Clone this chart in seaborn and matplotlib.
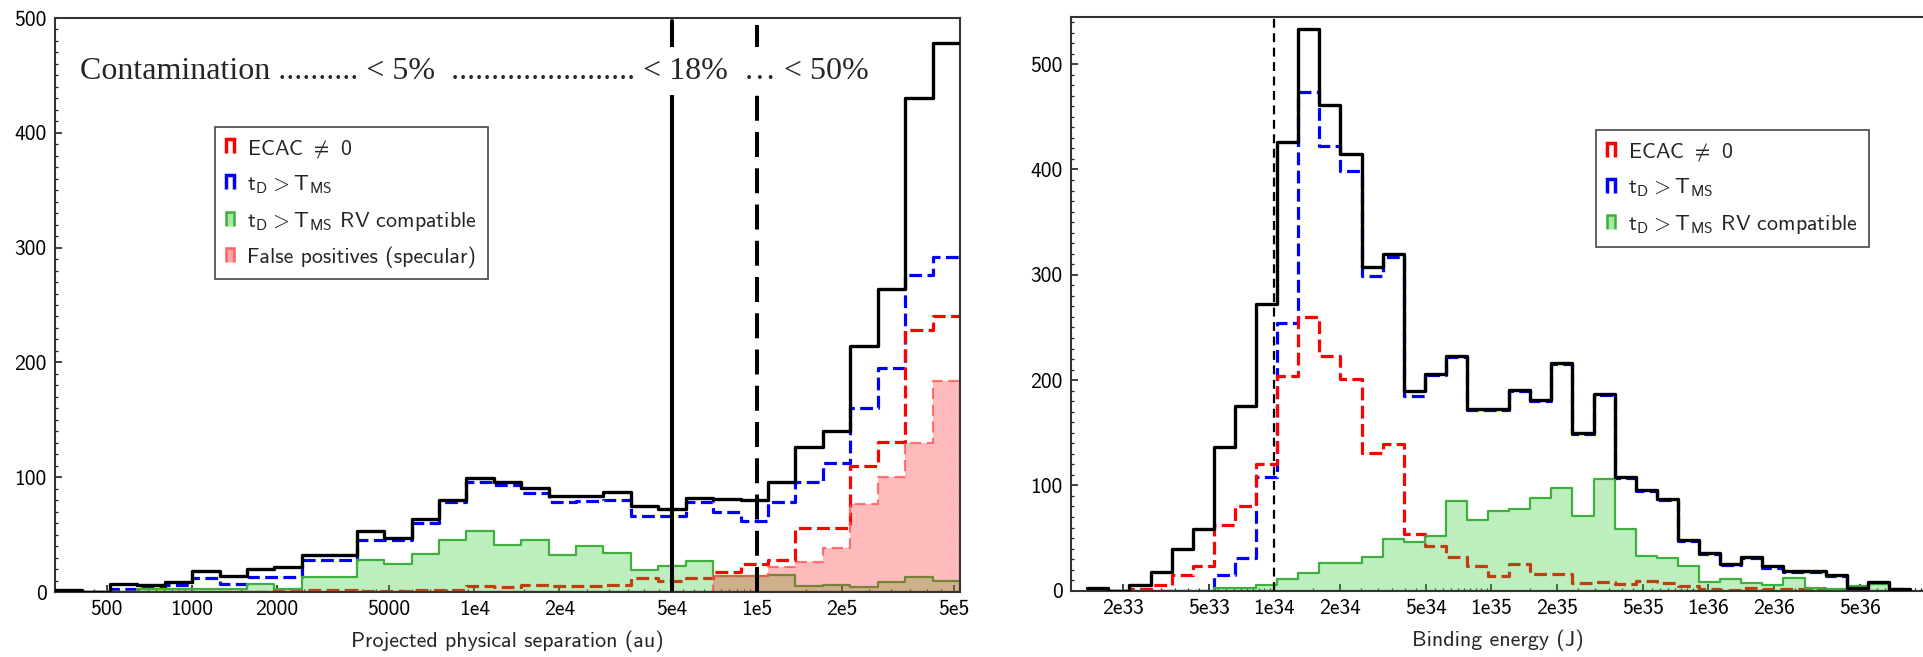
import numpy as np
import matplotlib
matplotlib.use("Agg")
import matplotlib.pyplot as plt
import seaborn as sns
from matplotlib.patches import Patch, Polygon
from matplotlib.legend_handler import HandlerBase
from matplotlib.ticker import LogLocator, NullFormatter, MultipleLocator

# ---------------- data ----------------
# left panel: projected physical separation (au), 33 log bins
sep_log_range = (2.516, 5.7197)
sep_total = [2, 0, 7, 6, 9, 18, 14, 20, 22, 32, 32, 53, 47, 64, 80, 99, 96, 91, 84, 84,
             87, 75, 72, 82, 81, 80, 96, 126, 140, 214, 264, 430, 478]
sep_tms = [0, 0, 3, 4, 6, 12, 7, 13, 13, 28, 28, 45, 45, 60, 78, 96, 93, 86, 78, 79,
           80, 66, 66, 78, 70, 62, 78, 96, 112, 160, 195, 276, 292]
sep_rv = [0, 0, 0, 3, 3, 3, 3, 7, 3, 13, 13, 28, 24, 33, 45, 53, 41, 45, 32, 40,
          34, 19, 23, 27, 14, 14, 15, 5, 6, 4, 9, 13, 10]
sep_ecac = [0, 0, 0, 0, 0, 0, 0, 0, 2, 2, 2, 1, 1, 2, 2, 5, 4, 6, 5, 5,
            6, 12, 10, 12, 17, 24, 28, 56, 56, 110, 131, 228, 240]
sep_false = [0, 0, 0, 0, 0, 0, 0, 0, 0, 0, 0, 0, 0, 0, 0, 0, 0, 0, 0, 0,
             0, 0, 0, 0, 14, 14, 22, 26, 38, 77, 100, 130, 184]
sep_xticks = [500, 1000, 2000, 5000, 1e4, 2e4, 5e4, 1e5, 2e5, 5e5]
sep_xticklabels = ["500", "1000", "2000", "5000", "1e4", "2e4", "5e4", "1e5", "2e5", "5e5"]
sep_yticks = [0, 100, 200, 300, 400, 500]
contamination_cuts = [5e4, 1e5]
contamination_text = "Contamination .......... < 5%  ....................... < 18%  \u2026 < 50%"

# right panel: binding energy (J), 39 log bins
en_log_range = (33.138, 36.929)
en_total = [3, 0, 5, 18, 40, 59, 136, 175, 272, 426, 533, 461, 415, 307, 320, 190, 206, 223, 173, 173,
            191, 181, 216, 150, 187, 108, 96, 87, 48, 36, 25, 32, 23, 19, 19, 15, 3, 8, 2]
en_tms = [0, 0, 0, 0, 0, 0, 15, 31, 108, 254, 474, 422, 399, 299, 317, 185, 205, 222, 172, 172,
          190, 180, 215, 149, 186, 107, 95, 86, 47, 35, 24, 31, 22, 18, 18, 14, 3, 7, 2]
en_ecac = [0, 0, 2, 5, 15, 23, 62, 80, 120, 204, 260, 223, 201, 131, 139, 54, 42, 32, 23, 14,
           25, 16, 16, 7, 8, 6, 9, 7, 4, 2, 1, 3, 2, 2, 2, 1, 0, 0, 0]
en_rv = [0, 0, 0, 0, 0, 0, 3, 3, 5, 11, 17, 26, 26, 32, 49, 46, 52, 85, 67, 76,
         78, 88, 98, 71, 106, 59, 33, 31, 23, 8, 11, 7, 5, 12, 3, 2, 4, 6, 0]
en_xticks = [2e33, 5e33, 1e34, 2e34, 5e34, 1e35, 2e35, 5e35, 1e36, 2e36, 5e36]
en_xticklabels = ["2e33", "5e33", "1e34", "2e34", "5e34", "1e35", "2e35", "5e35", "1e36", "2e36", "5e36"]
en_yticks = [0, 100, 200, 300, 400, 500]
energy_cut = [1e34]

labels = ["ECAC $\\neq$ 0",
          "$\\mathsf{t_D} > \\mathsf{T_{MS}}$",
          "$\\mathsf{t_D} > \\mathsf{T_{MS}}$ RV compatible",
          "False positives (specular)"]

# ---------------- style ----------------
sns.set_theme(style="white")
plt.rcParams["font.family"] = ["cmss10", "DejaVu Sans"]
plt.rcParams["mathtext.fontset"] = "cm"
plt.rcParams["axes.formatter.use_mathtext"] = False
plt.rcParams["axes.unicode_minus"] = False

RED = "#ff0000"
BLUE = "#0000ff"
GREEN_FILL = "#33cc33"
GREEN_EDGE = "#3fb03f"
PINK = "#ff2020"

FS_TICK = 15.5
FS_LABEL = 15.8
FS_LEG = 15.8

fig = plt.figure(figsize=(19.23, 6.57), dpi=100)
axL = fig.add_axes([55 / 1923, (657 - 592) / 657, 905 / 1923, 574 / 657])
axR = fig.add_axes([1071 / 1923, (657 - 590.7) / 657, 854.4 / 1923, 573.9 / 657])


def draw_hist(ax, log_range, counts, **kw):
    edges = np.linspace(log_range[0], log_range[1], len(counts) + 1)
    centers = 10 ** ((edges[:-1] + edges[1:]) / 2)
    sns.histplot(x=centers, weights=list(counts), bins=[float(e) for e in edges], log_scale=True,
                 element="step", ax=ax, **kw)


dashes = (0, (4, 1.7))

for ax, rng, tot, tms, ecac, rv, false in [
        (axL, sep_log_range, sep_total, sep_tms, sep_ecac, sep_rv, sep_false),
        (axR, en_log_range, en_total, en_tms, en_ecac, en_rv, None)]:
    draw_hist(ax, rng, tms, fill=False, color=BLUE, linewidth=2.3, linestyle=dashes, zorder=2)
    draw_hist(ax, rng, ecac, fill=False, color=RED, linewidth=2.3, linestyle=dashes, zorder=2.1)
    draw_hist(ax, rng, rv, fill=True, facecolor=matplotlib.colors.to_rgba(GREEN_FILL, 0.32),
              edgecolor=GREEN_EDGE, linewidth=1.6, zorder=2.2)
    if false is not None:
        draw_hist(ax, rng, false, fill=True, facecolor=matplotlib.colors.to_rgba(PINK, 0.3),
                  edgecolor=matplotlib.colors.to_rgba("#ff5555", 0.8), linewidth=1.6,
                  linestyle=(0, (5, 2.5)), zorder=2.3)
    draw_hist(ax, rng, tot, fill=False, color="black", linewidth=2.4, zorder=3)

# ---------------- axes cosmetics ----------------
axL.set_xlim(10 ** sep_log_range[0], 10 ** sep_log_range[1])
axL.set_ylim(0, 500)
axR.set_xlim(10 ** 33.063, 10 ** 37.0)
axR.set_ylim(0, 545)

for ax, ticks, tlabels, yt, xlabel in [
        (axL, sep_xticks, sep_xticklabels, sep_yticks, "Projected physical separation (au)"),
        (axR, en_xticks, en_xticklabels, en_yticks, "Binding energy (J)")]:
    ax.set_xticks(ticks)
    ax.set_xticklabels(tlabels)
    ax.xaxis.set_minor_locator(LogLocator(base=10, subs=np.arange(1.5, 10, 0.5)))
    ax.xaxis.set_minor_formatter(NullFormatter())
    ax.set_yticks(yt)
    ax.set_yticklabels([str(v) for v in yt])
    ax.yaxis.set_minor_locator(MultipleLocator(10))
    ax.tick_params(which="both", direction="in", top=False, right=False,
                   bottom=True, left=True, colors="#222222", labelcolor="black")
    ax.tick_params(which="major", length=5, width=1.2, labelsize=FS_TICK, pad=6)
    ax.tick_params(which="minor", length=2.5, width=0.9)
    ax.set_xlabel(xlabel, fontsize=FS_LABEL, labelpad=8)
    ax.set_ylabel("")
    for s in ax.spines.values():
        s.set_color("#333333")
        s.set_linewidth(1.5)

axR.spines["right"].set_visible(False)

# reference lines
axL.axvline(contamination_cuts[0], ymin=0, ymax=0.994, color="black", lw=2.9, zorder=4)
axL.axvline(contamination_cuts[1], ymin=0, ymax=0.987, color="black", lw=2.9,
            linestyle=(0, (6.2, 2.8)), zorder=4)
axR.axvline(energy_cut[0], ymin=0, ymax=1, color="black", lw=1.6,
            linestyle=(0, (4, 2.5)), zorder=4)

axL.text(0.0272, 0.907, contamination_text, transform=axL.transAxes,
         fontsize=23, family=["Liberation Serif", "DejaVu Serif"], va="center", ha="left",
         bbox=dict(boxstyle="square,pad=0.3", facecolor="white", edgecolor="none"),
         zorder=6)


# ---------------- legends ----------------
class StepHandler(HandlerBase):
    def create_artists(self, legend, orig_handle, xdescent, ydescent, width, height,
                       fontsize, trans):
        x0, x1 = -xdescent, -xdescent + width
        y0, y1 = -ydescent, -ydescent + height
        poly = Polygon([[x0, y0], [x0, y1], [x1, y1], [x1, y0]], closed=False,
                       facecolor=orig_handle.get_facecolor(),
                       edgecolor=orig_handle.get_edgecolor(),
                       linewidth=orig_handle.get_linewidth(), transform=trans)
        return [poly]


h_ecac = Patch(facecolor="none", edgecolor=RED, linewidth=2.5)
h_tms = Patch(facecolor="none", edgecolor=BLUE, linewidth=2.5)
h_rv = Patch(facecolor=matplotlib.colors.to_rgba(GREEN_FILL, 0.45), edgecolor=GREEN_EDGE, linewidth=1.8)
h_fp = Patch(facecolor=matplotlib.colors.to_rgba(PINK, 0.4), edgecolor="#ff6060", linewidth=1.8)

for ax, handles, labs, anchor in [
        (axL, [h_ecac, h_tms, h_rv, h_fp], labels, (0.1773, 0.8106)),
        (axR, [h_ecac, h_tms, h_rv], labels[:3], (0.6145, 0.8027))]:
    leg = ax.legend(handles, labs, handler_map={Patch: StepHandler()},
                    loc="upper left", bbox_to_anchor=anchor, bbox_transform=ax.transAxes,
                    frameon=True, fancybox=False, framealpha=1, edgecolor="#555555",
                    fontsize=FS_LEG, handlelength=0.35, handleheight=0.6, handletextpad=0.6,
                    labelspacing=0.62, borderpad=0.5, borderaxespad=0)
    leg.get_frame().set_linewidth(1.3)
    leg.set_zorder(7)

fig.savefig("out.png", dpi=100)
